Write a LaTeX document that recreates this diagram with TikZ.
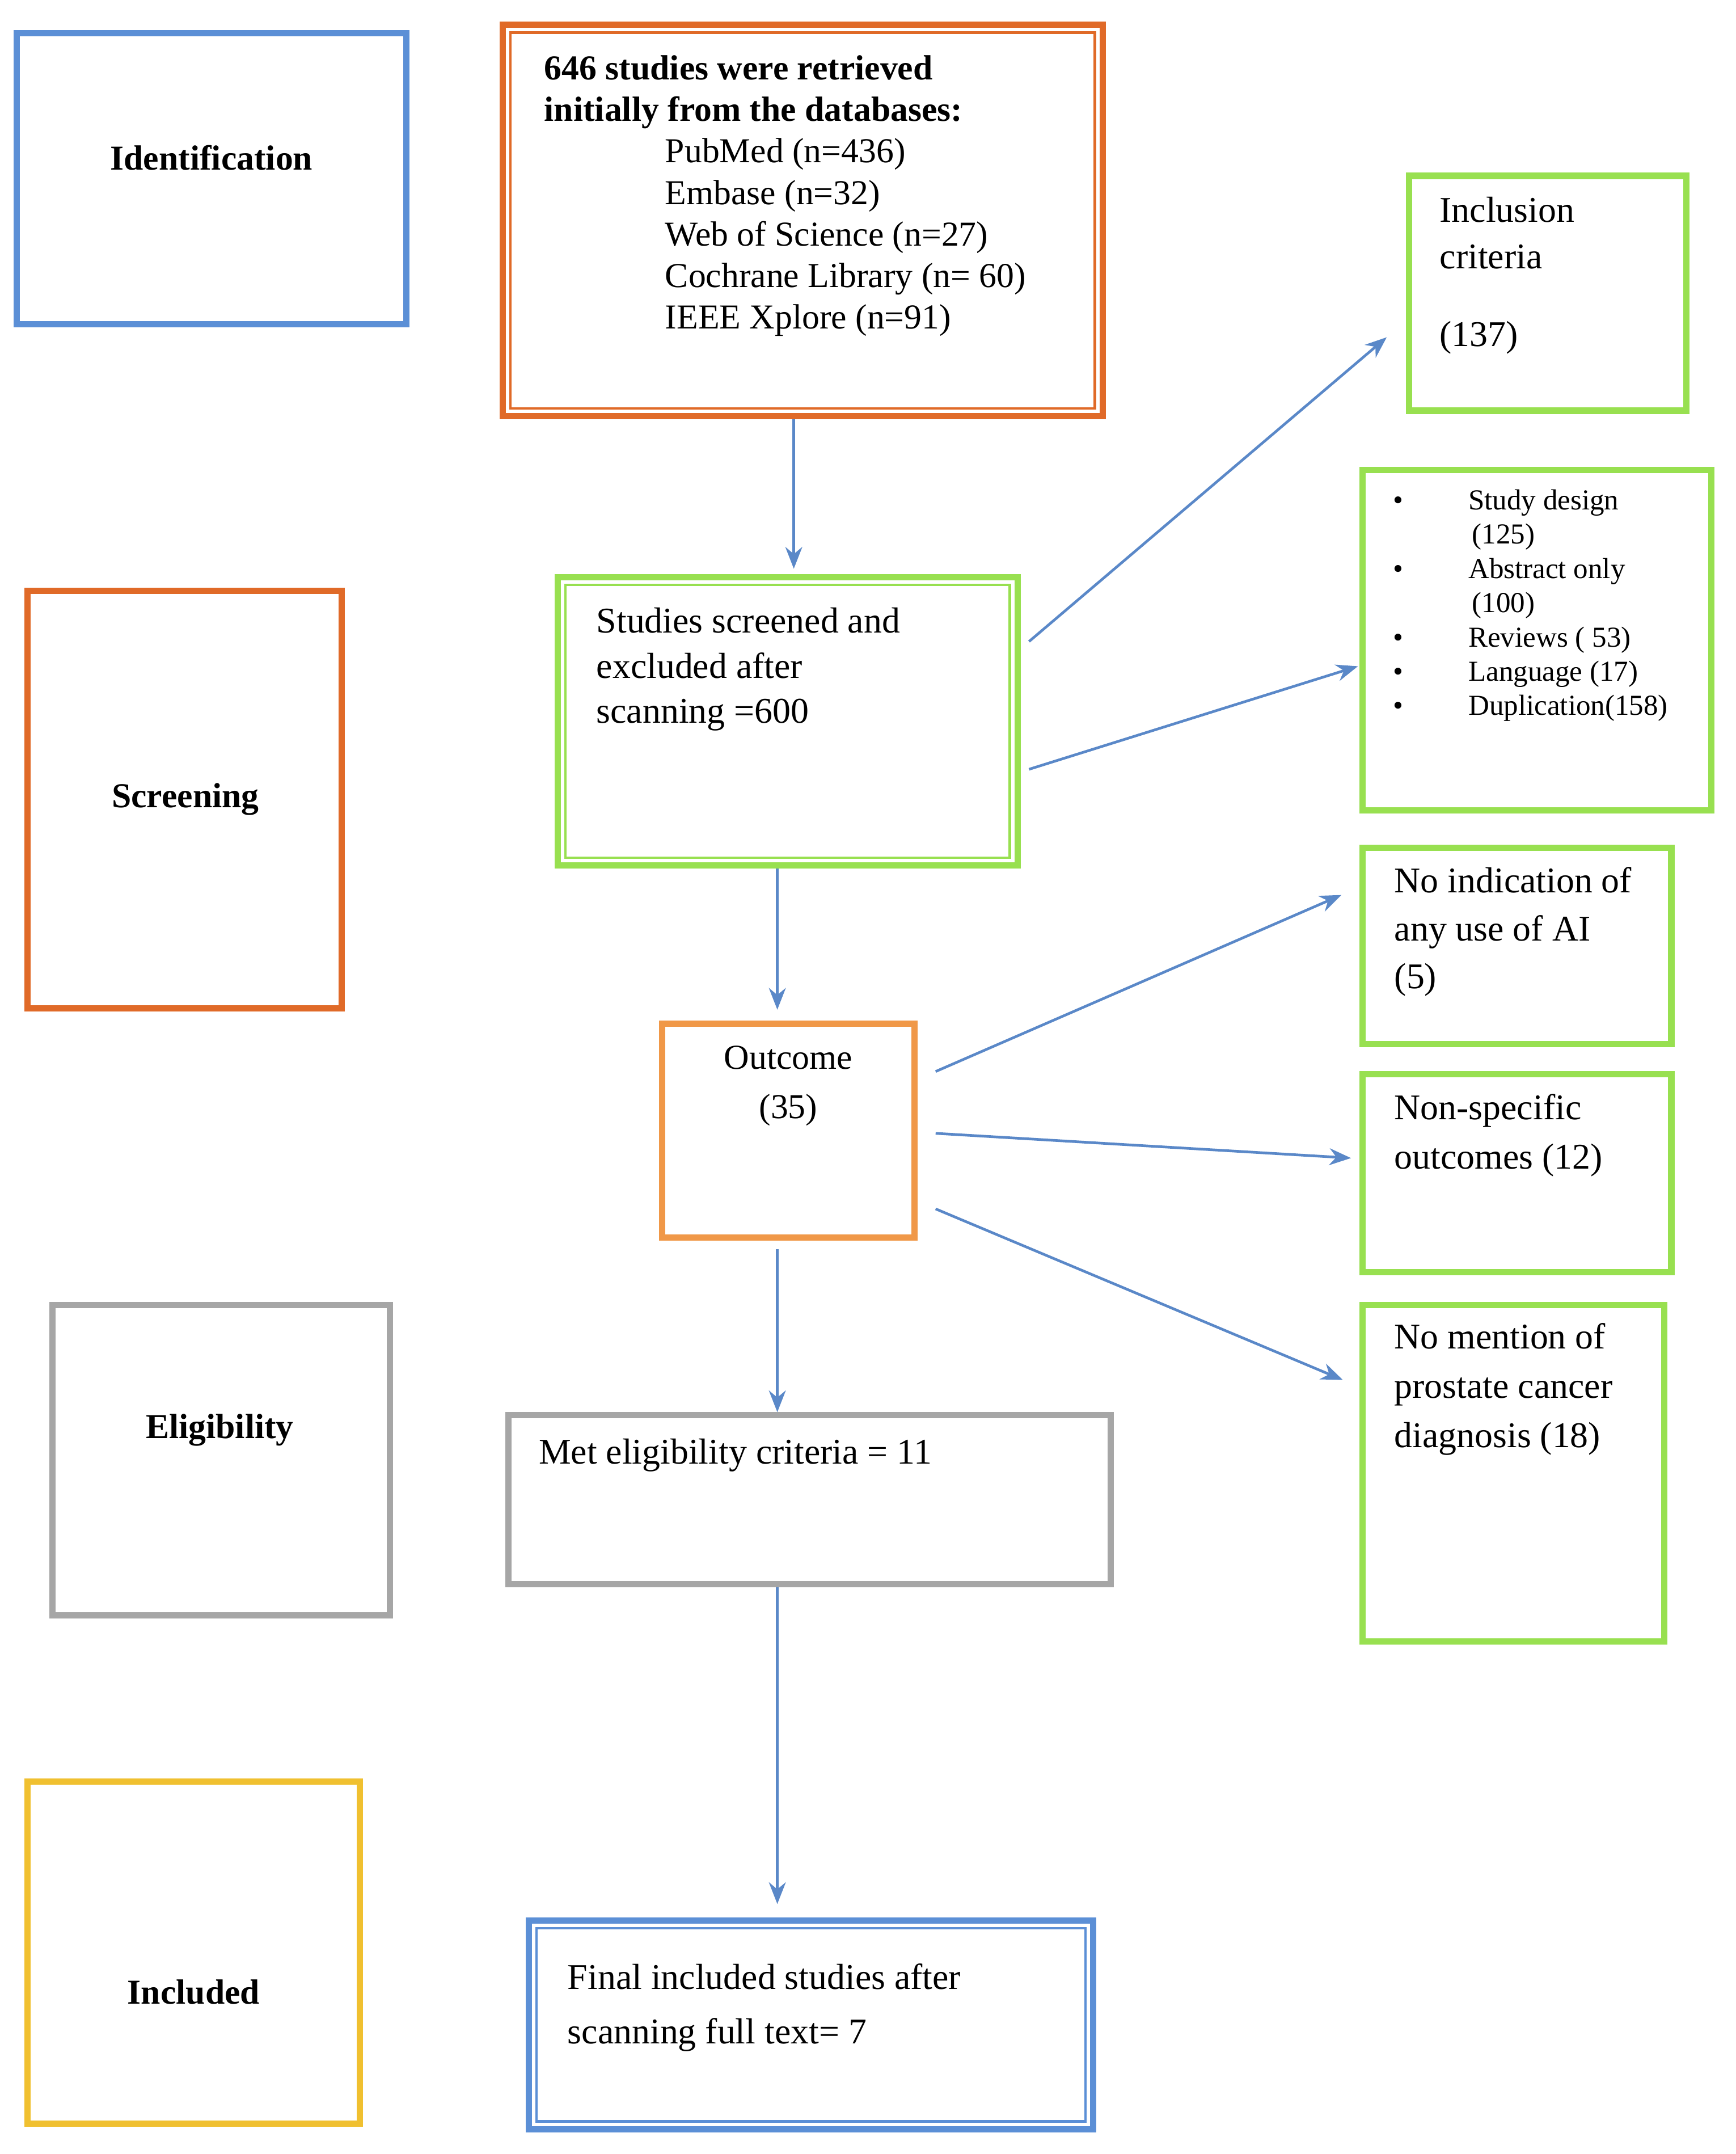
\documentclass[tikz,border=0pt]{standalone}
\usepackage{fontspec}
\setmainfont{Liberation Serif}
\usetikzlibrary{arrows.meta}
\definecolor{cblue}{HTML}{5B8FD6}
\definecolor{corange}{HTML}{E06A28}
\definecolor{cgray}{HTML}{A6A6A6}
\definecolor{cyellow}{HTML}{F0C030}
\definecolor{cgreen}{HTML}{98E050}
\definecolor{clight}{HTML}{F09848}
\definecolor{carrow}{HTML}{5A88C8}
\begin{document}
\begin{tikzpicture}[x=0.02cm,y=-0.02cm,
  box/.style={draw=#1,line width=2.6pt,inner sep=0pt},
  inner/.style={draw=#1,line width=1pt},
  txt/.style={anchor=north west,inner sep=0pt,align=left,font=\fontsize{14.5}{17.2}\selectfont},
  lab/.style={inner sep=0pt,font=\fontsize{14.5}{17}\selectfont\bfseries},
  arr/.style={draw=carrow,line width=1.1pt,-{Stealth[length=9pt,width=7pt]}}]
\useasboundingbox (0,0) rectangle (1264,1568);
% stage boxes
\node[box=cblue,minimum width=5.68cm,minimum height=4.24cm] (ident) at (154,130) {};
\node[box=corange,minimum width=4.58cm,minimum height=6.08cm] (screen) at (134.5,582) {};
\node[box=cgray,minimum width=4.92cm,minimum height=4.52cm] (elig) at (161,1063) {};
\node[box=cyellow,minimum width=4.84cm,minimum height=4.98cm] (incl) at (141,1421.5) {};
\node[lab] (identl) at (154,115) {Identification};
\node[lab] (screenl) at (135,582) {Screening};
\node[lab] (eligl) at (160,1041) {Eligibility};
\node[lab] (incll) at (141,1450) {Included};
% main column
\node[box=corange,minimum width=8.74cm,minimum height=5.70cm] (top) at (584.5,160.5) {};
\draw[inner=corange] ([shift={(8,8)}]top.north west) rectangle ([shift={(-8,-8)}]top.south east);
\node[txt,font=\fontsize{14.5}{17.2}\selectfont] (topt) at (396,40) {\textbf{646 studies were retrieved}\\
\textbf{initially from the databases:}\\
\hspace*{1.76cm}PubMed (n=436)\\
\hspace*{1.76cm}Embase (n=32)\\
\hspace*{1.76cm}Web of Science (n=27)\\
\hspace*{1.76cm}Cochrane Library (n= 60)\\
\hspace*{1.76cm}IEEE Xplore (n=91)};
\node[box=cgreen,minimum width=6.70cm,minimum height=4.20cm] (scr) at (573.5,525) {};
\draw[inner=cgreen] ([shift={(8,8)}]scr.north west) rectangle ([shift={(-8,-8)}]scr.south east);
\node[txt,font=\fontsize{15}{18.7}\selectfont] (scrt) at (434,442) {Studies screened and\\excluded after\\scanning =600};
\node[box=clight,minimum width=3.68cm,minimum height=3.12cm] (out) at (574,823) {};
\node[txt,anchor=north,align=center,font=\fontsize{14.5}{20.4}\selectfont] (outt) at (574,761) {Outcome\\(35)};
\node[box=cgray,minimum width=8.78cm,minimum height=2.46cm] (met) at (589.5,1091.5) {};
\node[txt,font=\fontsize{15}{18}\selectfont] (mett) at (392,1047) {Met eligibility criteria = 11};
\node[box=cblue,minimum width=8.22cm,minimum height=3.04cm] (fin) at (590.5,1474) {};
\draw[inner=cblue] ([shift={(8,8)}]fin.north west) rectangle ([shift={(-8,-8)}]fin.south east);
\node[txt,font=\fontsize{15}{22.7}\selectfont] (fint) at (413,1429) {Final included studies after\\scanning full text= 7};
% right column
\node[box=cgreen,minimum width=4.04cm,minimum height=3.42cm] (inc) at (1127,213.5) {};
\node[txt,font=\fontsize{15}{19.3}\selectfont] (inct) at (1048,143) {Inclusion\\criteria\\[13pt](137)};
\node[box=cgreen,minimum width=5.08cm,minimum height=4.96cm] (exc) at (1119,466) {};
\node[txt,font=\fontsize{12}{14.2}\selectfont] (exct) at (1014,356) {%
\textbullet\hspace*{0.95cm}Study design\\
\hspace*{1.15cm}(125)\\
\textbullet\hspace*{0.95cm}Abstract only\\
\hspace*{1.15cm}(100)\\
\textbullet\hspace*{0.95cm}Reviews ( 53)\\
\textbullet\hspace*{0.95cm}Language (17)\\
\textbullet\hspace*{0.95cm}Duplication(158)};
\node[box=cgreen,minimum width=4.5cm,minimum height=2.86cm] (noi) at (1104.5,688.5) {};
\node[txt,font=\fontsize{15}{19.8}\selectfont] (noit) at (1015,631) {No indication of\\any use of AI\\(5)};
\node[box=cgreen,minimum width=4.5cm,minimum height=2.88cm] (nsp) at (1104.5,854) {};
\node[txt,font=\fontsize{15}{20.4}\selectfont] (nspt) at (1015,796) {Non-specific\\outcomes (12)};
\node[box=cgreen,minimum width=4.4cm,minimum height=4.9cm] (nom) at (1102,1072.5) {};
\node[txt,font=\fontsize{15}{20.4}\selectfont] (nomt) at (1015,963) {No mention of\\prostate cancer\\diagnosis (18)};
% connectors
\coordinate (a1) at (578,414);
\coordinate (a2) at (566,735);
\coordinate (a3) at (566,1028);
\coordinate (a4) at (566,1386);
\draw[arr] (top.south -| a1) -- (a1);
\draw[arr] (scr.south -| a2) -- (a2);
\draw[arr] (out.south -| a3) ++(0,6) -- (a3);
\draw[arr] (met.south -| a4) -- (a4);
\draw[arr] ([shift={(6,-58)}]scr.east) -- ([shift={(-14,32)}]inc.west);
\draw[arr] ([shift={(6,35)}]scr.east) -- ([shift={(-1,19)}]exc.west);
\draw[arr] ([shift={(13,-43)}]out.east) -- ([shift={(-13,-37)}]noi.west);
\draw[arr] ([shift={(13,2)}]out.east) -- ([shift={(-6,-11)}]nsp.west);
\draw[arr] ([shift={(13,57)}]out.east) -- ([shift={(-12,-68)}]nom.west);
\end{tikzpicture}
\end{document}
